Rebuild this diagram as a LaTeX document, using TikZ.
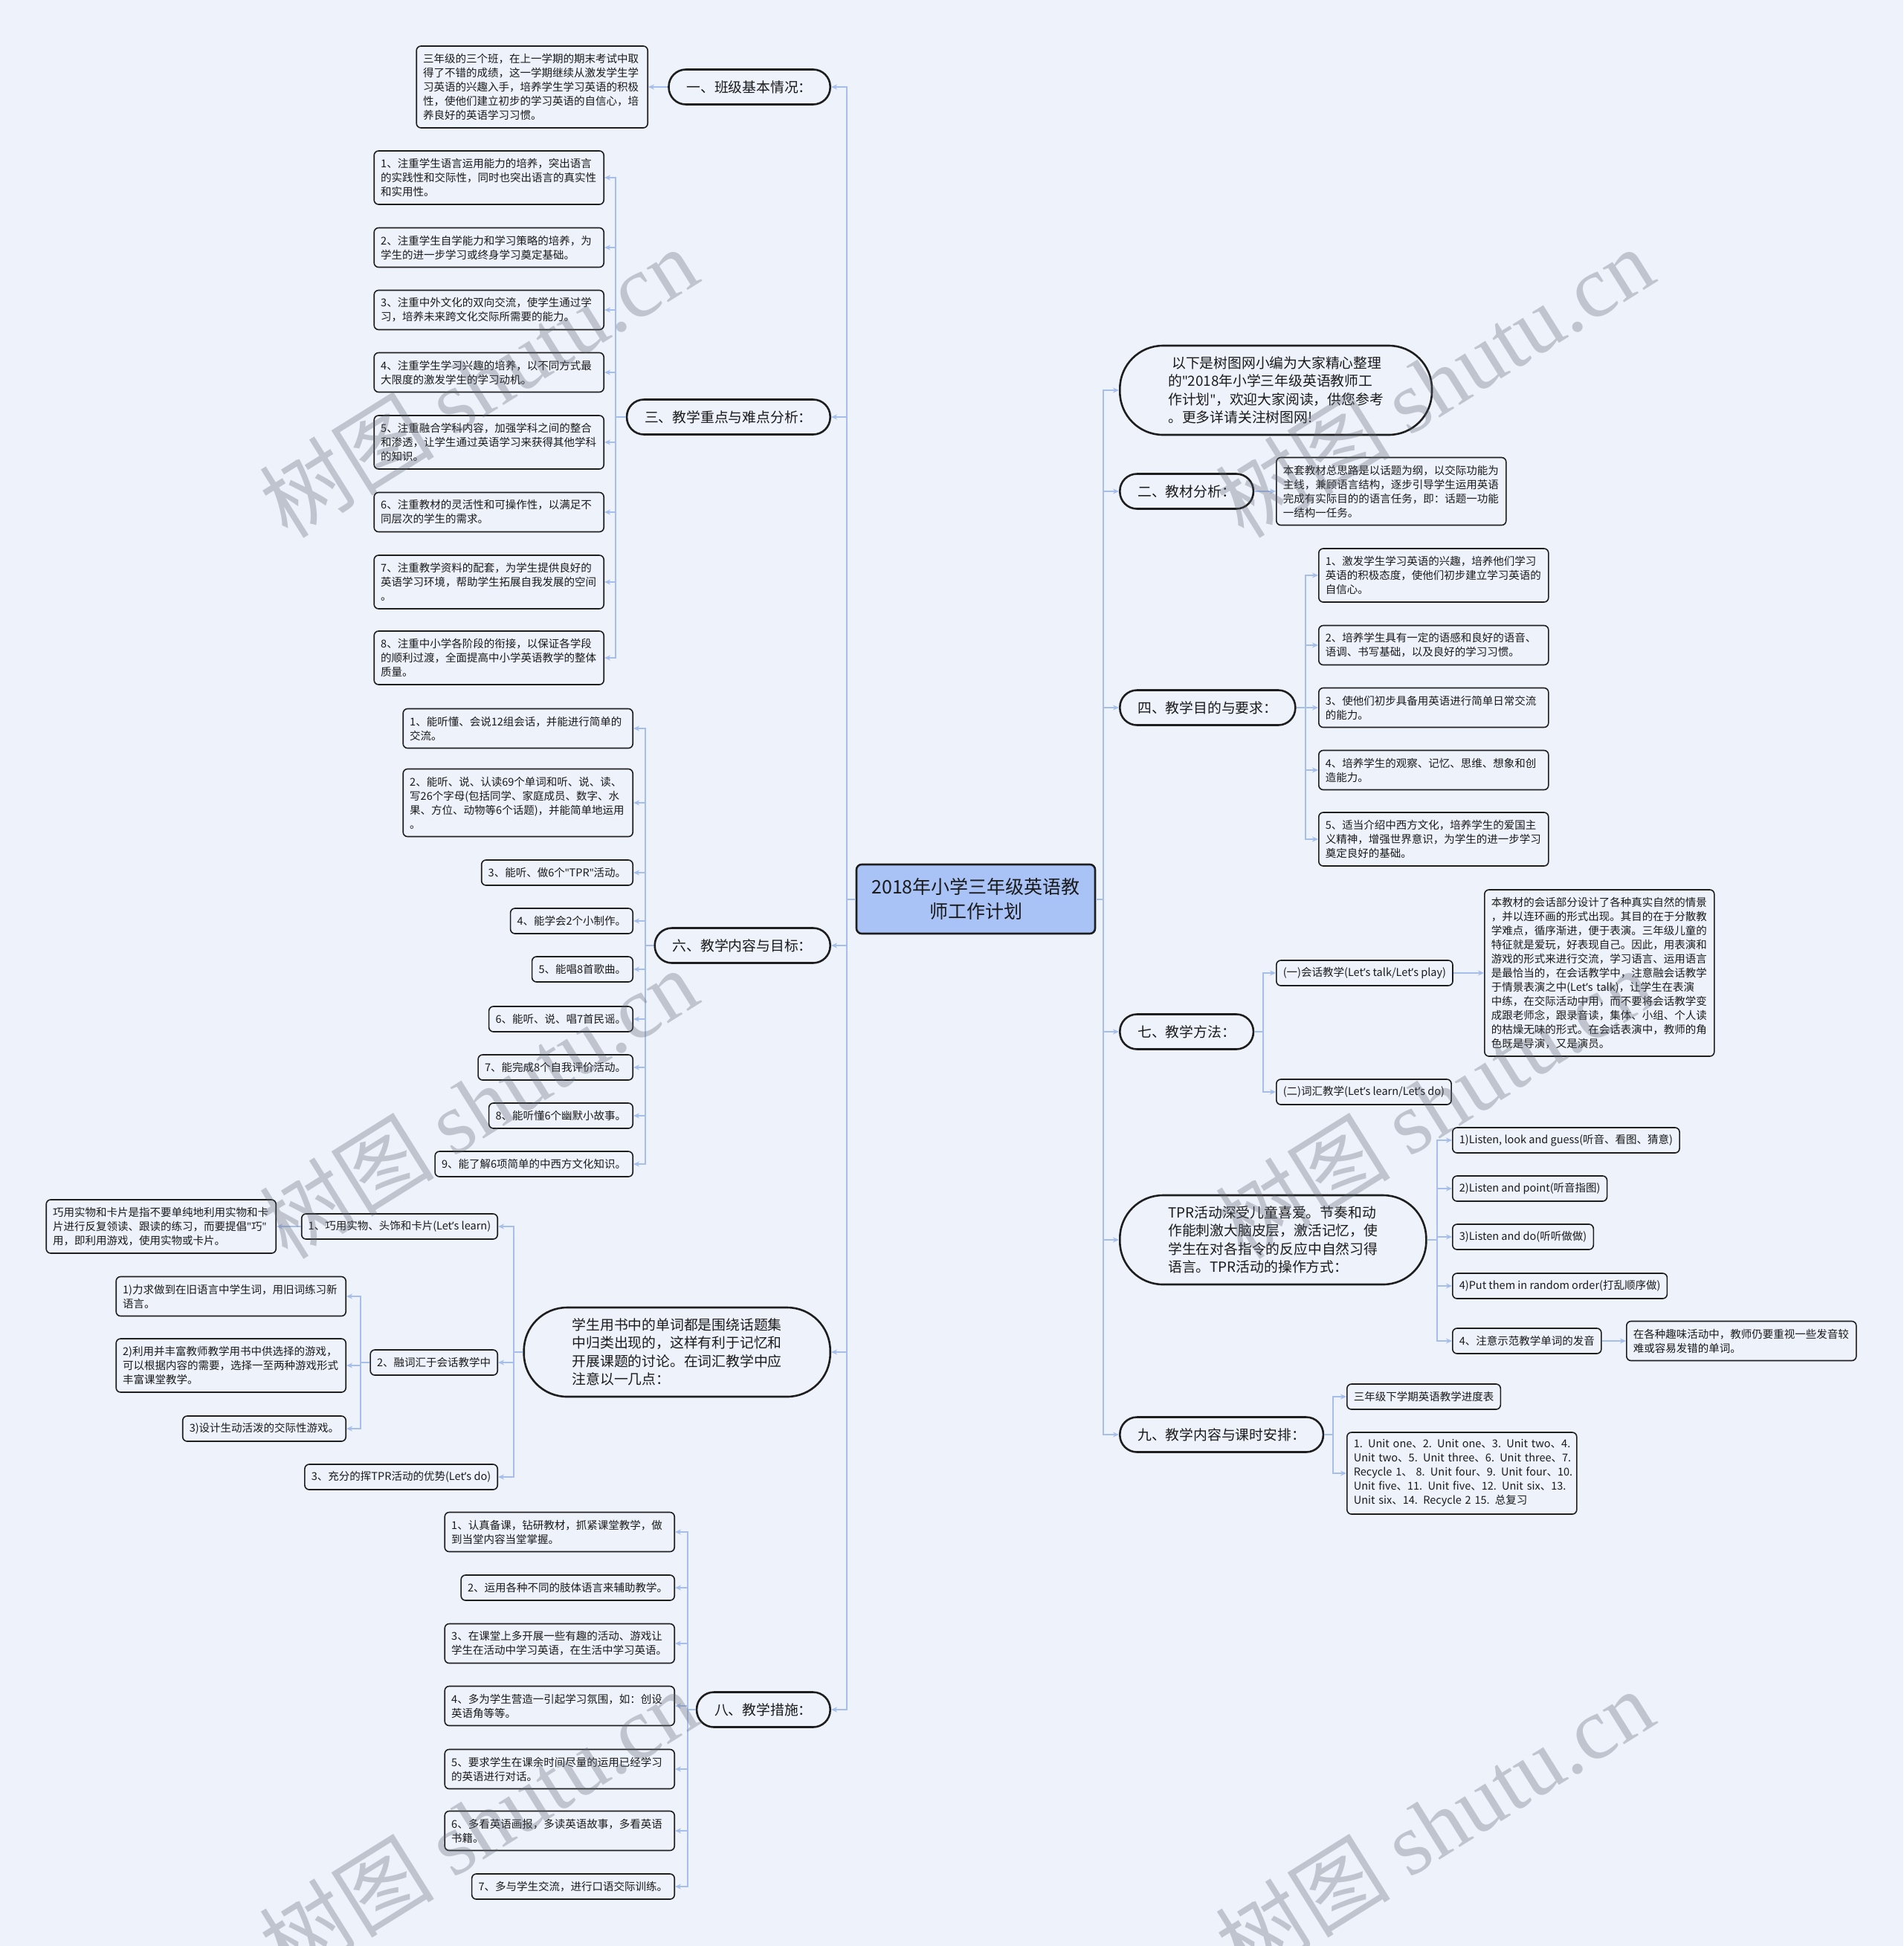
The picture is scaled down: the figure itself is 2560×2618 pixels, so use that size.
\documentclass[tikz,border=0pt]{standalone}
\usepackage{fontspec}
\setmainfont{Noto Sans CJK SC}
\newfontfamily\wmserif{Liberation Serif}
\newfontfamily\lat{Noto Sans}
\newcommand\qq{{\lat"}}
\newcommand\ap{{\lat’}}
\usetikzlibrary{arrows.meta}
\definecolor{bgc}{HTML}{EEF2FB}
\definecolor{lineblue}{HTML}{A6BEEC}
\definecolor{rootblue}{HTML}{A9C3F7}
\definecolor{nodeline}{HTML}{1E1E1E}
\definecolor{textc}{HTML}{1A1A1A}
\definecolor{wmc}{HTML}{5F6670}
\newcommand\leaffont{\fontsize{14.5pt}{19pt}\selectfont}
\newcommand\pillfont{\fontsize{18.8pt}{24.5pt}\selectfont}
\newcommand\rootfont{\fontsize{25pt}{33pt}\selectfont}
\newcommand\wmfont{\fontsize{118pt}{118pt}\selectfont}
\begin{document}
\begin{tikzpicture}[x=1pt,y=-1pt,
 conn/.style={draw=lineblue, line width=2pt, -{Stealth[length=8pt,width=7pt]}},
 leaf/.style={draw=nodeline, line width=1.6pt, fill=bgc, rounded corners=6pt, align=left, font=\leaffont, text=textc, inner xsep=9pt, inner ysep=2pt},
 h1/.style={minimum height=34pt}, h2/.style={minimum height=53pt}, h3/.style={minimum height=72pt},
 h4/.style={minimum height=91pt}, h5/.style={minimum height=110pt}, h11/.style={minimum height=224pt},
 tw/.style={text width=291pt},
 pill/.style={draw=nodeline, line width=2.6pt, fill=bgc, rounded corners=23pt, font=\pillfont, text=textc, inner xsep=24pt, inner ysep=2pt, minimum height=47pt},
 bigpill/.style={draw=nodeline, line width=2.6pt, fill=bgc, rounded corners=58pt, font=\pillfont, text=textc, align=left, inner xsep=65pt, inner ysep=2pt, minimum height=120pt},
 root/.style={draw=nodeline, line width=2.6pt, fill=rootblue, rounded corners=7pt, font=\rootfont, text=textc, align=center, minimum width=321pt, minimum height=93pt},
 wm/.style={rotate=32, text=wmc, opacity=0.32, font=\wmfont}]
\fill[bgc] (0,0) rectangle (2560,2618);
\useasboundingbox (0,0) rectangle (2560,2618);

\node[root] (root) at (1312.5,1209.5) {2018年小学三年级英语教\\师工作计划};

% ---------------- left side ----------------
\node[pill,anchor=east] (one) at (1118,117) {一、班级基本情况：};
\node[leaf,h5,text width=293pt,anchor=east] (oneA) at (872,117) {三年级的三个班，在上一学期的期末考试中取\\得了不错的成绩，这一学期继续从激发学生学\\习英语的兴趣入手，培养学生学习英语的积极\\性，使他们建立初步的学习英语的自信心，培\\养良好的英语学习习惯。};

\node[pill,anchor=east] (three) at (1118,561) {三、教学重点与难点分析：};
\node[leaf,h3,tw,anchor=east] (thr1) at (813,239) {1、注重学生语言运用能力的培养，突出语言\\的实践性和交际性，同时也突出语言的真实性\\和实用性。};
\node[leaf,h2,tw,anchor=east] (thr2) at (813,333) {2、注重学生自学能力和学习策略的培养，为\\学生的进一步学习或终身学习奠定基础。};
\node[leaf,h2,tw,anchor=east] (thr3) at (813,417) {3、注重中外文化的双向交流，使学生通过学\\习，培养未来跨文化交际所需要的能力。};
\node[leaf,h2,tw,anchor=east] (thr4) at (813,501) {4、注重学生学习兴趣的培养，以不同方式最\\大限度的激发学生的学习动机。};
\node[leaf,h3,tw,anchor=east] (thr5) at (813,595) {5、注重融合学科内容，加强学科之间的整合\\和渗透，让学生通过英语学习来获得其他学科\\的知识。};
\node[leaf,h2,tw,anchor=east] (thr6) at (813,689) {6、注重教材的灵活性和可操作性，以满足不\\同层次的学生的需求。};
\node[leaf,h3,tw,anchor=east] (thr7) at (813,783) {7、注重教学资料的配套，为学生提供良好的\\英语学习环境，帮助学生拓展自我发展的空间\\。};
\node[leaf,h3,tw,anchor=east] (thr8) at (813,885) {8、注重中小学各阶段的衔接，以保证各学段\\的顺利过渡，全面提高中小学英语教学的整体\\质量。};

\node[pill,anchor=east] (six) at (1118,1272) {六、教学内容与目标：};
\node[leaf,h2,tw,anchor=east] (six1) at (852,980) {1、能听懂、会说12组会话，并能进行简单的\\交流。};
\node[leaf,h4,tw,anchor=east] (six2) at (852,1080) {2、能听、说、认读69个单词和听、说、读、\\写26个字母(包括同学、家庭成员、数字、水\\果、方位、动物等6个话题)，并能简单地运用\\。};
\node[leaf,h1,anchor=east] (six3) at (852,1174) {3、能听、做6个\qq TPR\qq 活动。};
\node[leaf,h1,anchor=east] (six4) at (852,1239) {4、能学会2个小制作。};
\node[leaf,h1,anchor=east] (six5) at (852,1304) {5、能唱8首歌曲。};
\node[leaf,h1,anchor=east] (six6) at (852,1371) {6、能听、说、唱7首民谣。};
\node[leaf,h1,anchor=east] (six7) at (852,1436) {7、能完成8个自我评价活动。};
\node[leaf,h1,anchor=east] (six8) at (852,1501) {8、能听懂6个幽默小故事。};
\node[leaf,h1,anchor=east] (six9) at (852,1566) {9、能了解6项简单的中西方文化知识。};

\node[bigpill,anchor=east] (vocab) at (1118,1819) {学生用书中的单词都是围绕话题集\\中归类出现的，这样有利于记忆和\\开展课题的讨论。在词汇教学中应\\注意以一几点：};
\node[leaf,h1,anchor=east] (voc1) at (670,1650) {1、巧用实物、头饰和卡片(Let\ap s learn)};
\node[leaf,h3,tw,anchor=east] (voc1a) at (372,1650) {巧用实物和卡片是指不要单纯地利用实物和卡\\片进行反复领读、跟读的练习，而要提倡\qq 巧\qq\\用，即利用游戏，使用实物或卡片。};
\node[leaf,h1,anchor=east] (voc2) at (670,1833) {2、融词汇于会话教学中};
\node[leaf,h2,tw,anchor=east] (voc2a) at (466,1744) {1)力求做到在旧语言中学生词，用旧词练习新\\语言。};
\node[leaf,h3,tw,anchor=east] (voc2b) at (466,1837) {2)利用并丰富教师教学用书中供选择的游戏，\\可以根据内容的需要，选择一至两种游戏形式\\丰富课堂教学。};
\node[leaf,h1,anchor=east] (voc2c) at (466,1922) {3)设计生动活泼的交际性游戏。};
\node[leaf,h1,anchor=east] (voc3) at (670,1987) {3、充分的挥TPR活动的优势(Let\ap s do)};

\node[pill,anchor=east] (eight) at (1118,2300) {八、教学措施：};
\node[leaf,h2,tw,anchor=east] (eig1) at (908,2061) {1、认真备课，钻研教材，抓紧课堂教学，做\\到当堂内容当堂掌握。};
\node[leaf,h1,anchor=east] (eig2) at (908,2136) {2、运用各种不同的肢体语言来辅助教学。};
\node[leaf,h2,tw,anchor=east] (eig3) at (908,2211) {3、在课堂上多开展一些有趣的活动、游戏让\\学生在活动中学习英语，在生活中学习英语。};
\node[leaf,h2,tw,anchor=east] (eig4) at (908,2295) {4、多为学生营造一引起学习氛围，如：创设\\英语角等等。};
\node[leaf,h2,tw,anchor=east] (eig5) at (908,2380) {5、要求学生在课余时间尽量的运用已经学习\\的英语进行对话。};
\node[leaf,h2,tw,anchor=east] (eig6) at (908,2463) {6、多看英语画报，多读英语故事，多看英语\\书籍。};
\node[leaf,h1,anchor=east] (eig7) at (908,2538) {7、多与学生交流，进行口语交际训练。};

% ---------------- right side ----------------
\node[bigpill,anchor=west] (intro) at (1505,525) {\hspace*{5pt}以下是树图网小编为大家精心整理\\的\qq 2018年小学三年级英语教师工\\作计划\qq ，欢迎大家阅读，供您参考\\。更多详请关注树图网!};

\node[pill,anchor=west] (two) at (1505,661) {二、教材分析：};
\node[leaf,h4,tw,anchor=west] (twoA) at (1716,661) {本套教材总思路是以话题为纲，以交际功能为\\主线，兼顾语言结构，逐步引导学生运用英语\\完成有实际目的的语言任务，即：话题一功能\\一结构一任务。};

\node[pill,anchor=west] (four) at (1505,952) {四、教学目的与要求：};
\node[leaf,h3,tw,anchor=west] (fou1) at (1773,774) {1、激发学生学习英语的兴趣，培养他们学习\\英语的积极态度，使他们初步建立学习英语的\\自信心。};
\node[leaf,h2,tw,anchor=west] (fou2) at (1773,868) {2、培养学生具有一定的语感和良好的语音、\\语调、书写基础，以及良好的学习习惯。};
\node[leaf,h2,tw,anchor=west] (fou3) at (1773,952) {3、使他们初步具备用英语进行简单日常交流\\的能力。};
\node[leaf,h2,tw,anchor=west] (fou4) at (1773,1036) {4、培养学生的观察、记忆、思维、想象和创\\造能力。};
\node[leaf,h3,tw,anchor=west] (fou5) at (1773,1129) {5、适当介绍中西方文化，培养学生的爱国主\\义精神，增强世界意识，为学生的进一步学习\\奠定良好的基础。};

\node[pill,anchor=west] (seven) at (1505,1388) {七、教学方法：};
\node[leaf,h1,anchor=west] (sev1) at (1716,1309) {(一)会话教学(Let\ap s talk/Let\ap s play)};
\node[leaf,h11,tw,anchor=west] (sev1a) at (1996,1309) {本教材的会话部分设计了各种真实自然的情景\\，并以连环画的形式出现。其目的在于分散教\\学难点，循序渐进，便于表演。三年级儿童的\\特征就是爱玩，好表现自己。因此，用表演和\\游戏的形式来进行交流，学习语言、运用语言\\是最恰当的，在会话教学中，注意融会话教学\\\mbox{于情景表演之中(Let\ap s talk)，让学生在表演}\\中练，在交际活动中用，而不要将会话教学变\\成跟老师念，跟录音读，集体、小组、个人读\\的枯燥无味的形式。在会话表演中，教师的角\\色既是导演，又是演员。};
\node[leaf,h1,anchor=west] (sev2) at (1716,1469) {(二)词汇教学(Let\ap s learn/Let\ap s do)};

\node[bigpill,anchor=west] (tpr) at (1505,1668) {TPR活动深受儿童喜爱。节奏和动\\作能刺激大脑皮层，激活记忆，使\\学生在对各指令的反应中自然习得\\语言。TPR活动的操作方式：};
\node[leaf,h1,anchor=west] (tpr1) at (1953,1534) {1)Listen, look and guess(听音、看图、猜意)};
\node[leaf,h1,anchor=west] (tpr2) at (1953,1599) {2)Listen and point(听音指图)};
\node[leaf,h1,anchor=west] (tpr3) at (1953,1664) {3)Listen and do(听听做做)};
\node[leaf,h1,anchor=west] (tpr4) at (1953,1730) {4)Put them in random order(打乱顺序做)};
\node[leaf,h1,anchor=west] (tpr5) at (1953,1804) {4、注意示范教学单词的发音};
\node[leaf,h2,tw,anchor=west] (tpr5a) at (2187,1804) {在各种趣味活动中，教师仍要重视一些发音较\\难或容易发错的单词。};

\node[pill,anchor=west] (nine) at (1505,1930) {九、教学内容与课时安排：};
\node[leaf,h1,anchor=west] (nin1) at (1811,1879) {三年级下学期英语教学进度表};
\node[leaf,h5,tw,anchor=west] (nin2) at (1811,1982) {\mbox{1. Unit one、2. Unit one、3. Unit two、4.}\\\mbox{Unit two、5. Unit three、6. Unit three、7.}\\\mbox{Recycle 1、 8. Unit four、9. Unit four、10.}\\\mbox{Unit five、11. Unit five、12. Unit six、13.}\\\mbox{Unit six、14. Recycle 2 15. 总复习}};

% ---------------- connectors ----------------
\foreach \n in {one,three,six,vocab,eight}
  \draw[conn] (root.west) -- ++(-12,0) |- (\n.east);
\foreach \n in {intro,two,four,seven,tpr,nine}
  \draw[conn] (root.east) -- ++(10,0) |- (\n.west);
\draw[conn] (one.west) -- (oneA.east);
\foreach \n in {thr1,thr2,thr3,thr4,thr5,thr6,thr7,thr8}
  \draw[conn] (three.west) -- ++(-14,0) |- (\n.east);
\foreach \n in {six1,six2,six3,six4,six5,six6,six7,six8,six9}
  \draw[conn] (six.west) -- ++(-11,0) |- (\n.east);
\foreach \n in {voc1,voc2,voc3}
  \draw[conn] (vocab.west) -- ++(-12,0) |- (\n.east);
\draw[conn] (voc1.west) -- (voc1a.east);
\foreach \n in {voc2a,voc2b,voc2c}
  \draw[conn] (voc2.west) -- ++(-12,0) |- (\n.east);
\foreach \n in {eig1,eig2,eig3,eig4,eig5,eig6,eig7}
  \draw[conn] (eight.west) -- ++(-11,0) |- (\n.east);
\draw[conn] (two.east) -- (twoA.west);
\foreach \n in {fou1,fou2,fou3,fou4,fou5}
  \draw[conn] (four.east) -- ++(12,0) |- (\n.west);
\foreach \n in {sev1,sev2}
  \draw[conn] (seven.east) -- ++(12,0) |- (\n.west);
\draw[conn] (sev1.east) -- (sev1a.west);
\foreach \n in {tpr1,tpr2,tpr3,tpr4,tpr5}
  \draw[conn] (tpr.east) -- ++(13,0) |- (\n.west);
\draw[conn] (tpr5.east) -- (tpr5a.west);
\foreach \n in {nin1,nin2}
  \draw[conn] (nine.east) -- ++(12,0) |- (\n.west);

% ---------------- watermarks ----------------
\node[wm] (wm1) at (643,514) {树图 {\wmserif shutu.cn}};
\node[wm] (wm2) at (1929,514) {树图 {\wmserif shutu.cn}};
\node[wm] (wm3) at (643,1484) {树图 {\wmserif shutu.cn}};
\node[wm] (wm4) at (1929,1484) {树图 {\wmserif shutu.cn}};
\node[wm] (wm5) at (643,2454) {树图 {\wmserif shutu.cn}};
\node[wm] (wm6) at (1929,2454) {树图 {\wmserif shutu.cn}};
\end{tikzpicture}
\end{document}
